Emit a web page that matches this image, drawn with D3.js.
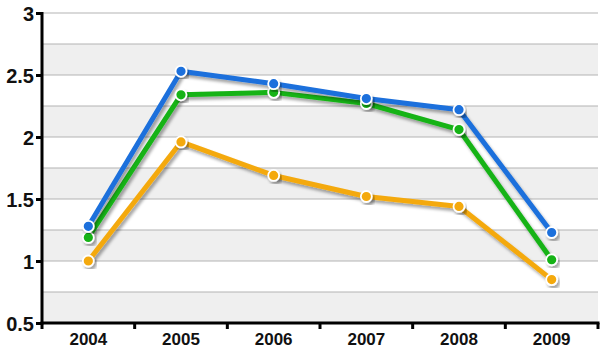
<!DOCTYPE html>
<html><head><meta charset="utf-8">
<script src="https://cdn.jsdelivr.net/npm/d3@7"></script>
<style>body{margin:0;background:#fff}svg{display:block}</style>
</head><body>
<script>
const categories = ["2004","2005","2006","2007","2008","2009"];
const blueValues = [1.28, 2.53, 2.43, 2.31, 2.22, 1.23];
const greenValues = [1.19, 2.34, 2.36, 2.27, 2.06, 1.01];
const orangeValues = [1.00, 1.96, 1.69, 1.52, 1.44, 0.85];
const yTicks = [0.5, 1, 1.5, 2, 2.5, 3];
const seriesList = [
  {name:"orange", values: orangeValues, color:"#f4a90c"},
  {name:"green", values: greenValues, color:"#15b316"},
  {name:"blue", values: blueValues, color:"#1b6fdc"}
];

const W=612, H=353;
const mLeft=42, mRight=598, mTop=13, mBottom=323;
const svg = d3.select("body").append("svg").attr("width",W).attr("height",H);
const defs = svg.append("defs");
const f = defs.append("filter").attr("id","sh").attr("x","-10%").attr("y","-10%").attr("width","130%").attr("height","130%");
f.append("feDropShadow").attr("dx",2).attr("dy",3).attr("stdDeviation",1.8).attr("flood-color","#000").attr("flood-opacity",0.35);

const x = d3.scaleBand().domain(categories).range([mLeft,mRight]);
const y = d3.scaleLinear().domain([0.5,3]).range([mBottom,mTop]);

// bands
const bandEdges = d3.range(0.5, 3.0001, 0.25);
const g = svg.append("g");
for (let i=0;i<bandEdges.length-1;i++){
  const lo=bandEdges[i], hi=bandEdges[i+1];
  g.append("rect").attr("x",mLeft).attr("width",mRight-mLeft)
    .attr("y",y(hi)).attr("height",y(lo)-y(hi))
    .attr("fill", i%2===0 ? "#efefef" : "#ffffff");
}
bandEdges.forEach(v=>{
  if (v===0.5) return;
  g.append("line").attr("x1",mLeft).attr("x2",mRight).attr("y1",y(v)).attr("y2",y(v))
    .attr("stroke","#b4b4b4").attr("stroke-width",1.2);
});

// lines
const line = d3.line().x((d,i)=>x(categories[i])+x.bandwidth()/2).y(d=>y(d));
seriesList.forEach(s=>{
  svg.append("path").datum(s.values).attr("d",line).attr("fill","none")
    .attr("stroke",s.color).attr("stroke-width",5).attr("stroke-linejoin","round")
    .attr("filter","url(#sh)");
});
seriesList.forEach(s=>{
  svg.append("g").selectAll("circle").data(s.values).join("circle")
    .attr("cx",(d,i)=>x(categories[i])+x.bandwidth()/2).attr("cy",d=>y(d))
    .attr("r",5.5).attr("fill",s.color).attr("stroke","#fff").attr("stroke-width",1.8)
    .attr("filter","url(#sh)");
});

// axes
const yAxis = svg.append("g").attr("transform",`translate(${mLeft},0)`)
  .call(d3.axisLeft(y).tickValues(yTicks).tickFormat(d3.format("")).tickSize(6).tickPadding(2));
const xAxis = svg.append("g").attr("transform",`translate(0,${mBottom})`)
  .call(d3.axisBottom(x).tickSize(0).tickPadding(10));
xAxis.selectAll(".tick line").remove();
[mLeft, ...categories.map(c=>x(c)+x.bandwidth())].forEach(v=>{
  xAxis.append("line").attr("x1",v).attr("x2",v).attr("y1",0).attr("y2",6)
    .attr("stroke","#000").attr("stroke-width",3);
});
[yAxis,xAxis].forEach(a=>{
  a.select(".domain").remove();
  a.attr("font-size",null);
  a.selectAll("text").attr("font-family","'Liberation Sans', Arial, sans-serif")
    .attr("font-weight","bold").attr("fill","#111");
});
yAxis.selectAll(".tick line").attr("stroke","#000").attr("stroke-width",3);
yAxis.selectAll("text").style("font-size","20px").attr("dy","0.36em");
xAxis.selectAll("text").style("font-size","17px").attr("dy","0.72em");
svg.append("line").attr("x1",mLeft).attr("x2",mLeft).attr("y1",mTop-1).attr("y2",mBottom+1.5)
  .attr("stroke","#000").attr("stroke-width",3);
svg.append("line").attr("x1",mLeft-1.5).attr("x2",mRight+1.5).attr("y1",mBottom).attr("y2",mBottom)
  .attr("stroke","#000").attr("stroke-width",3);
</script>
</body></html>
